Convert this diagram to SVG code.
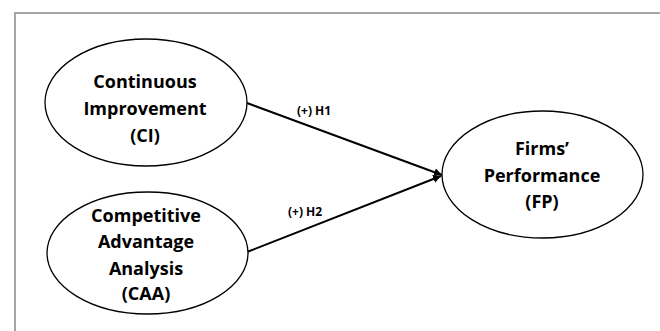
<svg xmlns="http://www.w3.org/2000/svg" width="660" height="331" viewBox="0 0 660 331">
<style>
.node{fill:#fff;stroke:#000;stroke-width:1.3}
.t{font-family:"Open Sans","Liberation Sans",sans-serif;font-weight:bold;font-size:18px;fill:#000;text-anchor:middle}
.lbl{font-family:"Open Sans","Liberation Sans",sans-serif;font-weight:bold;font-size:12px;fill:#000}
.edge{stroke:#000;stroke-width:2;fill:none}
</style>
<defs>
<marker id="arr" markerWidth="10" markerHeight="10" refX="8" refY="4" orient="auto" markerUnits="userSpaceOnUse">
<path d="M0,0 L8,4 L0,8 Z" fill="#000"/>
</marker>
</defs>
<rect width="660" height="331" fill="#fff"/>
<path d="M15,331 V13 H660" fill="none" stroke="#a6a6a6" stroke-width="2"/>
<g id="connectors">
<line class="edge" x1="247" y1="103" x2="442" y2="175" marker-end="url(#arr)"/>
<line class="edge" x1="247" y1="252" x2="441" y2="176" marker-end="url(#arr)"/>
<text class="lbl" x="297" y="115">(+) H1</text>
<text class="lbl" x="288" y="216">(+) H2</text>
</g>
<g id="CI">
<ellipse class="node" cx="146" cy="102.5" rx="101" ry="63.5"/>
<text class="t" x="145" y="88">Continuous</text>
<text class="t" x="145" y="115">Improvement</text>
<text class="t" x="145" y="142">(CI)</text>
</g>
<g id="CAA">
<ellipse class="node" cx="147.5" cy="253" rx="100.5" ry="61"/>
<text class="t" x="146" y="222">Competitive</text>
<text class="t" x="146" y="248">Advantage</text>
<text class="t" x="146" y="275">Analysis</text>
<text class="t" x="146" y="300">(CAA)</text>
</g>
<g id="FP">
<ellipse class="node" cx="542.5" cy="174.5" rx="100.5" ry="63.5"/>
<text class="t" x="542" y="155">Firms’</text>
<text class="t" x="542" y="182">Performance</text>
<text class="t" x="542" y="208">(FP)</text>
</g>
</svg>
